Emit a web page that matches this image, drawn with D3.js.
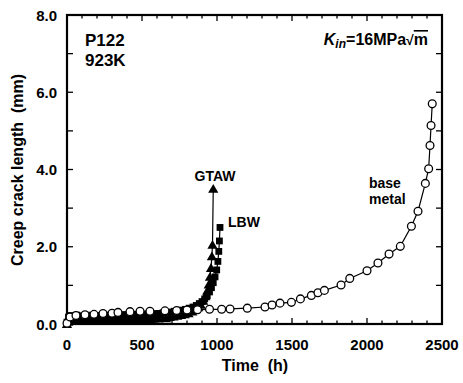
<!DOCTYPE html>
<html><head><meta charset="utf-8">
<script src="https://cdn.jsdelivr.net/npm/d3@7"></script>
<style>body{margin:0;background:#fff}svg{display:block}text{font-family:"Liberation Sans",Arial,sans-serif;font-weight:bold;fill:#000}</style>
</head><body><svg id="c" width="463" height="383"></svg>
<script>
const xTicks = [0, 500, 1000, 1500, 2000, 2500];
const yTicks = [0, 2, 4, 6, 8];
const baseT = [0, 20, 60, 120, 180, 240, 300, 340, 420, 487, 553, 653, 731, 800, 870, 950, 1031, 1087, 1202, 1320, 1367, 1420, 1496, 1556, 1629, 1673, 1716, 1827, 1885, 2000, 2073, 2147, 2222, 2296, 2340, 2389, 2411, 2420, 2427, 2435];
const baseV = [0.02, 0.18, 0.22, 0.24, 0.25, 0.27, 0.28, 0.3, 0.32, 0.33, 0.33, 0.34, 0.35, 0.36, 0.37, 0.38, 0.38, 0.39, 0.41, 0.44, 0.49, 0.54, 0.56, 0.65, 0.74, 0.81, 0.87, 1.01, 1.18, 1.38, 1.58, 1.81, 2.01, 2.53, 2.92, 3.64, 4.02, 4.62, 5.14, 5.70];
const gtawT = [0, 8, 18, 30, 45, 65, 85, 110, 135, 160, 185, 210, 235, 260, 285, 310, 335, 360, 385, 410, 435, 460, 485, 510, 535, 560, 585, 610, 635, 660, 685, 710, 735, 760, 785, 810, 835, 855, 875, 892, 908, 922, 935, 945, 953, 960, 966, 970, 975];
const gtawV = [0.0, 0.06, 0.1, 0.12, 0.1, 0.09, 0.11, 0.1, 0.12, 0.09, 0.11, 0.1, 0.12, 0.1, 0.11, 0.09, 0.12, 0.1, 0.11, 0.1, 0.12, 0.11, 0.13, 0.12, 0.14, 0.12, 0.15, 0.14, 0.16, 0.15, 0.18, 0.19, 0.21, 0.23, 0.25, 0.28, 0.32, 0.37, 0.43, 0.5, 0.6, 0.72, 0.86, 1.02, 1.22, 1.45, 1.75, 2.05, 3.5];
const lbwT = [0, 10, 25, 45, 65, 90, 115, 140, 165, 190, 215, 240, 265, 290, 315, 340, 365, 390, 415, 440, 465, 490, 515, 540, 565, 590, 615, 640, 665, 690, 715, 740, 765, 790, 815, 840, 862, 882, 900, 918, 935, 950, 963, 975, 987, 998, 1006, 1012, 1016, 1020];
const lbwV = [0.05, 0.18, 0.22, 0.2, 0.23, 0.21, 0.22, 0.2, 0.23, 0.21, 0.22, 0.2, 0.23, 0.22, 0.21, 0.23, 0.22, 0.24, 0.22, 0.24, 0.23, 0.25, 0.24, 0.26, 0.25, 0.27, 0.27, 0.29, 0.3, 0.31, 0.33, 0.34, 0.36, 0.38, 0.41, 0.44, 0.48, 0.53, 0.58, 0.65, 0.73, 0.83, 0.94, 1.07, 1.22, 1.4, 1.62, 1.88, 2.15, 2.5];

const svg = d3.select("#c");
const L = 67, R = 442, T = 15, B = 324;
const x = d3.scaleLinear().domain([0, 2500]).range([L, R]);
const y = d3.scaleLinear().domain([0, 8]).range([B, T]);

// ticks (inward)
const g = svg.append("g").attr("stroke", "#000").attr("stroke-width", 1.3);
d3.range(0, 2501, 100).forEach(t => {
  const len = t % 500 === 0 ? 6 : 3.5;
  g.append("line").attr("x1", x(t)).attr("x2", x(t)).attr("y1", B).attr("y2", B - len);
  g.append("line").attr("x1", x(t)).attr("x2", x(t)).attr("y1", T).attr("y2", T + len);
});
d3.range(0, 8.01, 1).forEach(v => {
  const len = 6;
  g.append("line").attr("x1", L).attr("x2", L + len).attr("y1", y(v)).attr("y2", y(v));
  g.append("line").attr("x1", R).attr("x2", R - len).attr("y1", y(v)).attr("y2", y(v));
});
svg.append("rect").attr("x", L).attr("y", T).attr("width", R - L).attr("height", B - T)
  .attr("fill", "none").attr("stroke", "#000").attr("stroke-width", 2.2);

// tick labels
svg.selectAll(".xl").data(xTicks).enter().append("text")
  .attr("x", d => x(d)).attr("y", 350).attr("text-anchor", "middle").attr("font-size", 15).text(d => d);
svg.selectAll(".yl").data(yTicks).enter().append("text")
  .attr("x", 57).attr("y", d => y(d) + 5.5).attr("text-anchor", "end").attr("font-size", 15).text(d => d.toFixed(1));

// axis titles
svg.append("text").attr("x", 255).attr("y", 371).attr("text-anchor", "middle").attr("font-size", 16)
  .style("white-space", "pre").text("Time  (h)");
svg.append("text").attr("transform", "translate(23,170) rotate(-90)").attr("text-anchor", "middle")
  .attr("font-size", 16).style("white-space", "pre").text("Creep crack length  (mm)");

// lines
const line = d3.line().x(d => x(d[0])).y(d => y(d[1]));
const zip = (a, b) => a.map((t, i) => [t, b[i]]);
const lbw = zip(lbwT, lbwV), gtaw = zip(gtawT, gtawV), base = zip(baseT, baseV);
[lbw, gtaw, base].forEach(d => svg.append("path").attr("d", line(d)).attr("fill", "none").attr("stroke", "#000").attr("stroke-width", 1.2));

// markers
svg.selectAll(".sq").data(lbw).enter().append("rect")
  .attr("x", d => x(d[0]) - 3.4).attr("y", d => y(d[1]) - 3.4).attr("width", 6.8).attr("height", 6.8).attr("fill", "#000");
const tri = d3.symbol().type(d3.symbolTriangle).size(45);
svg.selectAll(".tr").data(gtaw).enter().append("path")
  .attr("d", tri).attr("transform", d => `translate(${x(d[0])},${y(d[1]) + 1})`).attr("fill", "#000");
svg.selectAll(".ci").data(base).enter().append("circle")
  .attr("cx", d => x(d[0])).attr("cy", d => y(d[1])).attr("r", 3.9)
  .attr("fill", "#fff").attr("stroke", "#000").attr("stroke-width", 1.3);

// annotations
svg.append("text").attr("x", 85).attr("y", 46).attr("font-size", 17).text("P122");
svg.append("text").attr("x", 85).attr("y", 66).attr("font-size", 17).text("923K");
const k = svg.append("text").attr("x", 428).attr("y", 45).attr("text-anchor", "end").attr("font-size", 16);
k.append("tspan").attr("font-style", "italic").text("K");
k.append("tspan").attr("font-style", "italic").attr("font-size", 12).attr("dy", 3).text("in");
k.append("tspan").attr("dy", -3).text("=16MPa");
k.append("tspan").attr("font-size", 14).text("\u221A");
k.append("tspan").style("text-decoration", "overline").text("m");
svg.append("text").attr("x", 215).attr("y", 181).attr("text-anchor", "middle").attr("font-size", 14).text("GTAW");
svg.append("text").attr("x", 228).attr("y", 227).attr("font-size", 14).text("LBW");
svg.append("text").attr("x", 369).attr("y", 188).attr("font-size", 14).text("base");
svg.append("text").attr("x", 369).attr("y", 204).attr("font-size", 14).text("metal");
</script></body></html>
